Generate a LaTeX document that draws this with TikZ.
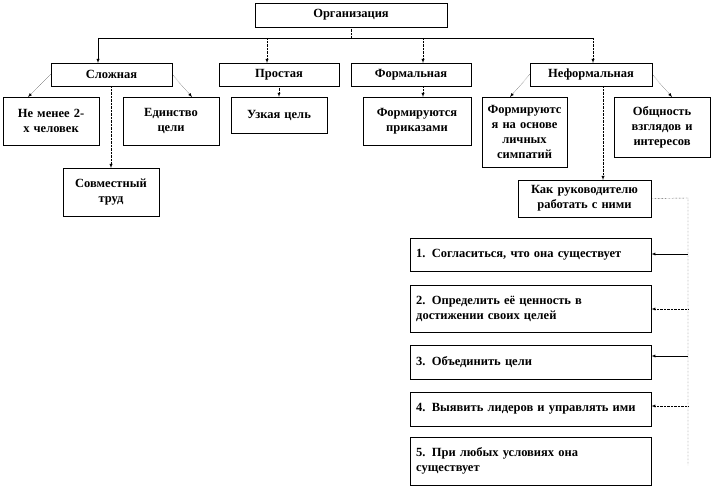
\documentclass[tikz,border=0pt]{standalone}
\usepackage{fontspec}
\setmainfont{Liberation Serif}
\begin{document}
\begin{tikzpicture}[x=1pt,y=-1pt,
    box/.style={draw,thin,inner sep=2pt,font=\bfseries\fontsize{12.5}{15}\selectfont,align=center},
    lst/.style={box,align=left,anchor=north west,text width=229pt,inner sep=5pt,minimum width=241pt},
    arr/.style={-latex},
    dot/.style={densely dotted}]
    \useasboundingbox (0,0) rectangle (714,489);
    % top levels
    \node[box,minimum width=192pt,minimum height=24pt] (org) at (351,15) {Организация};
    \node[box,minimum width=121pt,minimum height=23pt] (slo) at (111.5,74.5) {Сложная};
    \node[box,minimum width=120pt,minimum height=23pt] (pro) at (279,74.5) {Простая};
    \node[box,minimum width=120pt,minimum height=23pt] (for) at (411,74.5) {Формальная};
    \node[box,minimum width=122pt,minimum height=23pt] (nef) at (591,74.5) {Неформальная};
    % second level
    \node[box,minimum width=96pt,minimum height=48pt,text width=90pt] (nem) at (51,121) {Не менее 2-\\х человек};
    \node[box,minimum width=96pt,minimum height=48pt,text width=90pt] (edi) at (171,121) {Единство\\цели};
    \node[box,minimum width=96pt,minimum height=48pt,text width=90pt] (sov) at (111,192) {Совместный\\труд};
    \node[box,minimum width=96pt,minimum height=36pt,text width=90pt] (uzk) at (279,115) {Узкая цель};
    \node[box,minimum width=108pt,minimum height=48pt,text width=102pt] (pri) at (417,121) {Формируются\\приказами};
    \node[box,minimum width=85pt,minimum height=70pt,text width=80pt] (sim) at (524.5,132) {Формируютс\\я на основе\\личных\\симпатий};
    \node[box,minimum width=96pt,minimum height=60pt,text width=90pt] (obs) at (662,127) {Общность\\взглядов и\\интересов};
    \node[box,minimum width=133pt,minimum height=37pt,text width=127pt] (kak) at (584.5,198.5) {Как руководителю\\работать  с ними};
    % list
    \node[lst,minimum height=33pt] (l1) at (410,238) {1. Согласиться, что  она существует};
    \node[lst,minimum height=47pt] (l2) at (410,285) {2. Определить  её ценность  в\\достижении  своих целей};
    \node[lst,minimum height=34pt] (l3) at (410,345) {3. Объединить  цели};
    \node[lst,minimum height=34pt] (l4) at (410,392) {4. Выявить  лидеров и управлять  ими};
    \node[lst,minimum height=48pt] (l5) at (410,437) {5. При любых  условиях она\\существует};
    % connectors
    \coordinate (hl) at (98,38);
    \coordinate (hr) at (593,38);
    \draw[dot] (org.south) -- (351,38);
    \draw (hl) -- (hr);
    \draw[arr] (hl) -- (98,63);
    \draw[arr,dot] (267,38) -- (267,63);
    \draw[arr,dot] (423,38) -- (423,63);
    \draw[arr,dot] (hr) -- (593,63);
    \draw[arr,dot] (slo.west) -- (28,97);
    \draw[arr,dot] (slo.east) -- (192,97);
    \draw[arr,dot] (111,86) -- (111,168);
    \draw[arr,dot] (pro.south) -- (uzk.north);
    \draw[arr,dot] (423,86) -- (423,97);
    \draw[arr,dot] (nef.west) -- (510,97);
    \draw[arr,dot] (nef.east) -- (672,97);
    \draw[arr,dot] (603,86) -- (603,180);
    \coordinate (rt) at (688,198);
    \draw[dot] (kak.east) -- (rt) -- (688,465);
    \draw[arr] (688,254) -- (l1.east |- 0,254);
    \draw[arr,dot] (688,309) -- (l2.east |- 0,309);
    \draw[arr] (688,356) -- (l3.east |- 0,356);
    \draw[arr,dot] (688,406) -- (l4.east |- 0,406);
\end{tikzpicture}
\end{document}
